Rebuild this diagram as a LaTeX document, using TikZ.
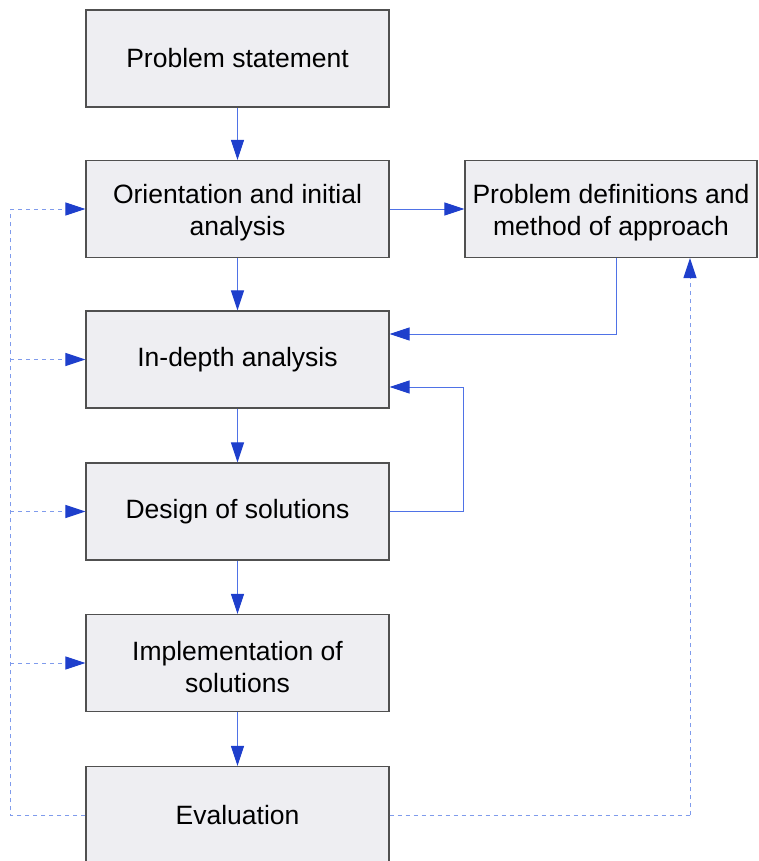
\documentclass[tikz,border=0pt]{standalone}
\usepackage{fontspec}
\setmainfont{Liberation Sans}
\usetikzlibrary{arrows.meta}
\definecolor{boxfill}{HTML}{EEEEF2}
\definecolor{boxline}{HTML}{505050}
\definecolor{flowline}{HTML}{4F72E6}
\definecolor{flowhead}{HTML}{1E3FCC}
\definecolor{loopline}{HTML}{7F9BEC}
\tikzset{
  stage/.style={draw=boxline, line width=1.1pt, fill=boxfill,
    minimum width=303pt, minimum height=97pt, align=center, inner sep=0pt,
    font=\fontsize{26.5}{32}\selectfont},
  flow/.style={draw=flowline, line width=1pt,
    -{Triangle[length=20pt,width=13pt,color=flowhead,fill=flowhead]}},
  loop/.style={draw=loopline, line width=1pt, dash pattern=on 4pt off 4pt},
  looparrow/.style={loop,
    -{Triangle[length=20pt,width=13pt,color=flowhead,fill=flowhead]}},
}
\begin{document}
\begin{tikzpicture}[x=1pt,y=-1pt]
\useasboundingbox (0,0) rectangle (758,861);

% process stages
\node[stage] (ps)   at (237.5,58.5) {Problem statement};
\node[stage] (oia)  at (237.5,209)  {\rule{0pt}{27pt}Orientation and initial\\analysis};
\node[stage, minimum width=292pt] (pd) at (611,209) {\rule{0pt}{27pt}Problem definitions and\\method of approach};
\node[stage] (ida)  at (237.5,359.5) {In-depth analysis};
\node[stage] (ds)   at (237.5,511.5) {Design of solutions};
\node[stage] (is)   at (237.5,663)   {\rule{0pt}{27pt}Implementation of\\solutions};
\node[stage] (ev)   at (237.5,815)   {Evaluation};

% main sequence
\draw[flow] (ps) -- (oia);
\draw[flow] (oia) -- (ida);
\draw[flow] (ida) -- (ds);
\draw[flow] (ds) -- (is);
\draw[flow] (is) -- (ev);
\draw[flow] (oia) -- (pd);

% definitions feed the in-depth analysis
\coordinate (pdturn) at (616,334);
\draw[flow] (pd.south -| pdturn) |- (ida.east |- pdturn);

% design iterates back to the analysis
\coordinate (dsturn) at (463,387);
\draw[flow] (ds.east) -| (dsturn) -- (ida.east |- dsturn);

% evaluation feedback loops
\coordinate (lrail) at (10,209);
\draw[loop] (ev.west) -| (lrail);
\draw[looparrow] (lrail) -- (oia.west);
\draw[looparrow] (lrail |- ida.west) -- (ida.west);
\draw[looparrow] (lrail |- ds.west) -- (ds.west);
\draw[looparrow] (lrail |- is.west) -- (is.west);

\coordinate (rrail) at (690,815);
\draw[loop] (ev.east) -- (rrail);
\draw[looparrow] (rrail) -- (rrail |- pd.south);
\end{tikzpicture}
\end{document}
